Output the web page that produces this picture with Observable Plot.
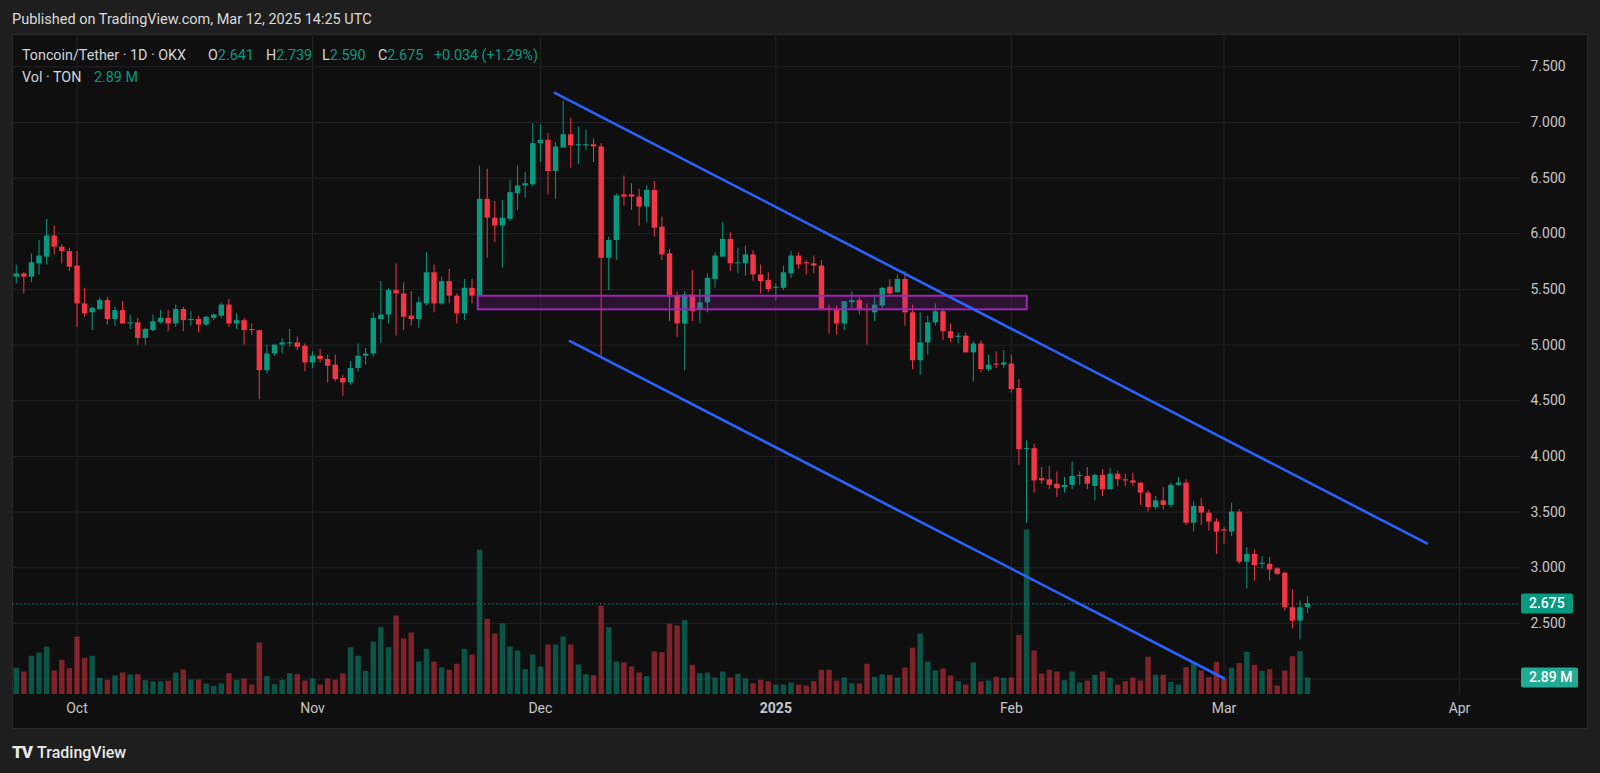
<!DOCTYPE html>
<html>
<head>
<meta charset="utf-8">
<script src="https://cdn.jsdelivr.net/npm/d3@7"></script>
<script src="https://cdn.jsdelivr.net/npm/@observablehq/plot@0.6"></script>
<style>
  html, body { margin:0; padding:0; background:#1e1e1e; }
  #wrap { position:relative; width:1600px; height:773px; background:#1e1e1e; overflow:hidden; font-family: Roboto, "Noto Sans", sans-serif; }
  #pane { position:absolute; left:12px; top:34px; width:1576px; height:695px; background:#0f0f0f; box-sizing:border-box; border:1px solid #2b2b2b; }
  .layer { position:absolute; left:0; top:0; }
  .layer svg { display:block; }
  #hdr { position:absolute; left:12px; top:11px; font-size:14.5px; line-height:18px; color:#dadada; white-space:nowrap; }
  .lg { position:absolute; font-size:14.3px; line-height:18px; color:#d1d4dc; white-space:nowrap; }
  .tv { color:#089981; }
  #footer { position:absolute; left:12px; top:742px; color:#e8e8e8; font-size:16px; line-height:20px; font-weight:500; white-space:nowrap; }
  #footer b { font-weight:900; font-size:17px; letter-spacing:-1px; margin-right:5px; }
</style>
</head>
<body>
<div id="wrap">
  <div id="hdr">Published on TradingView.com, Mar 12, 2025 14:25 UTC</div>
  <div id="pane"></div>
  <div id="gridLayer" class="layer"></div>
  <div id="volLayer" class="layer"></div>
  <div id="priceLayer" class="layer"></div>
  <div class="lg" style="left:22px;top:46px">Toncoin/Tether · 1D · OKX</div>
  <div class="lg" style="left:208px;top:46px">O<span class="tv">2.641</span></div>
  <div class="lg" style="left:266px;top:46px">H<span class="tv">2.739</span></div>
  <div class="lg" style="left:322px;top:46px">L<span class="tv">2.590</span></div>
  <div class="lg" style="left:378px;top:46px">C<span class="tv">2.675</span></div>
  <div class="lg tv" style="left:434px;top:46px">+0.034 (+1.29%)</div>
  <div class="lg" style="left:22px;top:68px">Vol · TON</div>
  <div class="lg tv" style="left:94px;top:68px">2.89 M</div>
  <div id="footer"><b>TV</b>TradingView</div>
</div>
<script>
// ---- data (daily candles, Sep 23 2024 -> Mar 12 2025) ----
const firstDay = "2024-09-23";
const open = [
5.61,5.64,5.61,5.73,5.79,5.98,5.88,5.84,5.71,5.37,
5.29,5.32,5.40,5.23,5.31,5.19,5.20,5.06,5.13,5.20,
5.24,5.19,5.32,5.22,5.23,5.18,5.24,5.26,5.36,5.19,
5.22,5.14,5.13,4.77,4.92,5.00,5.01,5.02,4.99,4.84,
4.90,4.87,4.82,4.70,4.66,4.79,4.90,4.92,5.23,5.27,
5.49,5.46,5.26,5.23,5.37,5.65,5.37,5.57,5.44,5.28,
5.51,5.44,6.31,6.14,6.07,6.13,6.36,6.43,6.44,6.81,
6.84,6.56,6.77,6.89,6.79,6.79,6.80,6.78,5.78,5.94,
6.35,6.35,6.33,6.24,6.39,6.06,5.82,5.44,5.19,5.45,
5.31,5.38,5.59,5.79,5.95,5.73,5.73,5.81,5.63,5.58,
5.51,5.51,5.64,5.80,5.74,5.73,5.71,5.33,5.31,5.19,
5.38,5.40,5.32,5.29,5.35,5.52,5.47,5.59,5.29,4.86,
5.02,5.20,5.30,5.12,5.07,5.08,4.93,5.01,4.78,4.83,
4.82,4.83,4.61,4.06,4.07,3.80,3.79,3.75,3.72,3.74,
3.82,3.82,3.73,3.83,3.70,3.84,3.79,3.78,3.76,3.67,
3.54,3.60,3.56,3.74,3.76,3.40,3.55,3.49,3.41,3.34,
3.32,3.50,3.05,3.12,3.03,3.03,2.99,2.95,2.64,2.52,
2.641];
const high = [
5.72,5.65,5.82,5.94,6.13,6.07,5.90,5.87,5.84,5.51,
5.34,5.42,5.43,5.34,5.39,5.27,5.24,5.15,5.27,5.31,
5.31,5.36,5.34,5.30,5.26,5.26,5.28,5.38,5.41,5.28,
5.24,5.19,5.13,5.00,5.00,5.06,5.14,5.07,5.01,4.94,
4.96,4.91,4.91,4.73,4.85,5.01,4.97,5.29,5.57,5.51,
5.73,5.56,5.48,5.43,5.83,5.72,5.61,5.68,5.46,5.59,
5.59,6.61,6.58,6.29,6.30,6.48,6.61,6.55,6.99,6.98,
6.90,6.82,7.19,7.04,6.96,6.93,6.85,6.81,5.97,6.36,
6.52,6.45,6.40,6.43,6.47,6.15,5.86,5.48,5.48,5.67,
5.50,5.64,5.83,6.10,6.01,5.87,5.89,5.85,5.72,5.65,
5.55,5.71,5.84,5.83,5.76,5.80,5.76,5.36,5.35,5.39,
5.48,5.43,5.37,5.43,5.52,5.59,5.63,5.66,5.36,5.29,
5.26,5.37,5.32,5.19,5.11,5.11,5.03,5.04,4.91,4.94,
4.95,4.91,4.69,4.14,4.11,3.90,3.91,3.86,3.81,3.95,
3.86,3.90,3.84,3.88,3.89,3.87,3.84,3.85,3.76,3.69,
3.64,3.72,3.76,3.81,3.79,3.59,3.62,3.52,3.44,3.36,
3.58,3.52,3.18,3.16,3.10,3.09,3.00,2.96,2.80,2.70,
2.739];
const low = [
5.55,5.46,5.56,5.63,5.72,5.81,5.73,5.66,5.16,5.25,
5.13,5.31,5.18,5.17,5.19,5.14,5.00,5.00,5.12,5.19,
5.12,5.16,5.12,5.17,5.11,5.17,5.22,5.24,5.16,5.14,
5.00,5.09,4.51,4.74,4.90,4.92,4.98,4.95,4.76,4.79,
4.84,4.66,4.67,4.54,4.64,4.76,4.82,4.89,5.01,5.19,
5.08,5.13,5.17,5.15,5.35,5.29,5.36,5.37,5.19,5.22,
5.37,5.44,5.78,5.92,5.69,6.11,6.21,6.32,6.42,6.64,
6.35,6.31,6.77,6.59,6.62,6.75,6.64,4.90,5.49,5.76,
6.25,6.21,6.07,6.10,5.97,5.76,5.21,5.07,4.77,5.21,
5.19,5.29,5.51,5.79,5.66,5.64,5.62,5.57,5.46,5.47,
5.40,5.49,5.60,5.68,5.63,5.64,5.31,5.10,5.09,5.13,
5.32,5.27,5.00,5.21,5.31,5.43,5.47,5.17,4.78,4.73,
4.91,5.17,5.04,5.02,5.01,4.93,4.67,4.75,4.76,4.79,
4.79,4.57,3.92,3.40,3.67,3.75,3.70,3.63,3.67,3.70,
3.74,3.70,3.60,3.64,3.70,3.73,3.73,3.73,3.56,3.50,
3.52,3.52,3.54,3.73,3.38,3.32,3.38,3.33,3.12,3.21,
3.28,3.03,2.81,2.88,2.99,2.88,2.93,2.61,2.45,2.35,
2.590];
const close = [
5.64,5.61,5.74,5.80,5.98,5.88,5.84,5.70,5.37,5.28,
5.33,5.40,5.23,5.31,5.19,5.20,5.06,5.14,5.21,5.24,
5.19,5.32,5.22,5.23,5.18,5.25,5.27,5.36,5.19,5.22,
5.13,5.13,4.77,4.92,5.00,5.02,5.02,4.98,4.84,4.90,
4.87,4.81,4.69,4.66,4.79,4.90,4.92,5.24,5.27,5.49,
5.46,5.25,5.23,5.38,5.65,5.37,5.57,5.44,5.28,5.51,
5.44,6.31,6.14,6.07,6.14,6.37,6.43,6.45,6.81,6.84,
6.56,6.78,6.89,6.79,6.80,6.80,6.78,5.78,5.94,6.34,
6.33,6.33,6.24,6.39,6.05,5.81,5.43,5.19,5.45,5.30,
5.38,5.60,5.80,5.95,5.73,5.74,5.81,5.63,5.57,5.50,
5.52,5.65,5.80,5.72,5.73,5.71,5.31,5.31,5.19,5.39,
5.40,5.31,5.31,5.36,5.51,5.46,5.59,5.29,4.86,5.02,
5.20,5.30,5.12,5.06,5.08,4.93,5.01,4.78,4.82,4.82,
4.84,4.60,4.06,4.07,3.78,3.78,3.74,3.71,3.74,3.82,
3.83,3.75,3.83,3.70,3.84,3.79,3.78,3.76,3.67,3.54,
3.60,3.56,3.74,3.76,3.40,3.55,3.49,3.41,3.32,3.33,
3.50,3.05,3.12,3.02,3.04,2.98,2.94,2.64,2.52,2.64,
2.675];
// volume in millions of TON
const volume = [
4.59,3.94,6.69,7.26,8.31,4.11,5.99,4.52,10.06,6.34,
6.69,2.84,2.49,3.24,3.76,3.41,3.47,2.42,2.19,2.19,
2.31,3.76,4.29,2.54,2.54,1.84,1.40,1.84,3.64,2.49,
2.71,1.66,9.01,3.12,1.72,2.49,3.64,3.47,2.36,2.71,
1.66,2.71,2.49,3.64,8.19,6.69,4.06,9.19,11.69,8.19,
13.74,9.71,10.76,5.69,7.91,5.69,4.64,4.24,5.29,7.91,
6.91,25.29,13.16,10.59,12.34,8.31,7.61,4.34,6.91,4.81,
8.66,8.66,10.06,8.66,5.16,3.47,3.29,15.44,11.69,5.69,
5.51,4.81,3.76,3.12,7.44,7.32,12.29,11.99,12.92,5.11,
3.64,3.76,2.89,3.94,2.89,3.54,2.71,1.89,2.49,2.24,
1.66,1.66,2.01,1.66,1.49,2.24,4.24,4.24,2.36,2.89,
1.89,1.84,5.29,3.01,3.47,3.36,2.89,4.64,8.09,10.59,
5.69,4.11,4.46,3.24,2.24,1.66,5.51,2.19,2.36,3.01,
2.84,2.89,10.36,28.79,7.61,3.59,4.24,3.94,2.42,3.94,
2.01,2.36,3.36,3.94,2.84,1.66,2.24,2.84,2.36,6.51,
3.36,3.36,2.14,1.66,4.73,5.65,4.13,2.94,5.65,2.68,
4.59,5.43,7.40,5.11,4.03,4.31,1.49,4.11,6.62,7.49,
2.89];

const priceTicks = [2.5, 3.0, 3.5, 4.0, 4.5, 5.0, 5.5, 6.0, 6.5, 7.0, 7.5];
const gridLevels = [2.0, 2.5, 3.0, 3.5, 4.0, 4.5, 5.0, 5.5, 6.0, 6.5, 7.0, 7.5];
const monthDates = ["2024-10-01","2024-11-01","2024-12-01","2025-01-01","2025-02-01","2025-03-01","2025-04-01"];
const monthLabels = ["Oct","Nov","Dec","2025","Feb","Mar","Apr"];

// drawings: descending channel and support zone
const channelStart = ["2024-12-02T21:36Z", "2024-12-04T21:36Z"];
const channelStartPrice = [7.267, 5.035];
const channelEnd = ["2025-03-27T16:48Z", "2025-02-28T23:17Z"];
const channelEndPrice = [3.218, 2.007];
const zoneStart = "2024-11-22T19:41Z";
const zoneEnd = "2025-02-03T02:10Z";
const zoneLow = 5.317, zoneHigh = 5.439;

// ---- build tables ----
const day0 = new Date(firstDay + "T00:00Z");
const candles = open.map((o, i) => ({
  date: d3.utcDay.offset(day0, i),
  open: o, high: high[i], low: low[i], close: close[i], volume: volume[i],
  color: close[i] >= o ? "#089981" : "#f23645"
}));
const months = monthDates.map((d, i) => ({date: new Date(d + "T00:00Z"), label: monthLabels[i], bold: monthLabels[i] === "2025"}));
const channel = channelStart.map((s, i) => ({x1: new Date(s), y1: channelStartPrice[i], x2: new Date(channelEnd[i]), y2: channelEndPrice[i]}));
const zones = [{x1: new Date(zoneStart), x2: new Date(zoneEnd), y1: zoneLow, y2: zoneHigh}];

const UP = "#089981", DOWN = "#f23645";
const xDomain = [new Date("2024-09-22T12:13Z"), new Date("2025-04-09T00:43Z")];
const yDomain = [1.8608, 7.7907];
const common = {
  width: 1600, height: 773,
  marginLeft: 12, marginRight: 80, marginTop: 34, marginBottom: 79,
  style: {background: "transparent", color: "#c5c7cc", fontFamily: "Roboto, sans-serif", fontSize: "14px", overflow: "visible"}
};

// layer 1: grid + axes
const gridPlot = Plot.plot({
  ...common,
  x: {type: "utc", domain: xDomain, axis: null},
  y: {domain: yDomain},
  marks: [
    Plot.gridY(gridLevels, {stroke: "#222326", strokeOpacity: 1}),
    Plot.gridX(months.map(d => d.date), {stroke: "#222326", strokeOpacity: 1}),
    Plot.axisY(priceTicks, {anchor: "right", tickSize: 0, tickPadding: 10, tickFormat: d3.format(".3f"), label: null, fontSize: 14}),
    Plot.text(months.filter(d => !d.bold), {x: "date", text: "label", frameAnchor: "bottom", dy: 18, fontSize: 14}),
    Plot.text(months.filter(d => d.bold), {x: "date", text: "label", frameAnchor: "bottom", dy: 18, fontSize: 14, fontWeight: "bold"})
  ]
});
document.getElementById("gridLayer").append(gridPlot);

// layer 2: volume
const volPlot = Plot.plot({
  ...common,
  x: {type: "utc", domain: xDomain, axis: null},
  y: {domain: [0, 115.5], axis: null},
  marks: [
    Plot.ruleX(candles, {x: "date", y1: 0, y2: "volume", stroke: "color", strokeOpacity: 0.5, strokeWidth: 5.4})
  ]
});
document.getElementById("volLayer").append(volPlot);

// layer 3: candles + drawings
const pricePlot = Plot.plot({
  ...common,
  x: {type: "utc", domain: xDomain, axis: null},
  y: {domain: yDomain, axis: null},
  marks: [
    Plot.ruleY([close[close.length - 1]], {stroke: UP, strokeWidth: 1, strokeDasharray: "1.5,2.5"}),
    Plot.ruleX(candles, {x: "date", y1: "low", y2: "high", stroke: "color", strokeWidth: 1}),
    Plot.ruleX(candles, {x: "date", y1: "open", y2: "close", stroke: "color", strokeWidth: 5.4}),
    Plot.rect(zones, {x1: "x1", x2: "x2", y1: "y1", y2: "y2", fill: "#9c27b0", fillOpacity: 0.2, stroke: "#9c27b0", strokeWidth: 2}),
    Plot.link(channel, {x1: "x1", y1: "y1", x2: "x2", y2: "y2", stroke: "#2962ff", strokeWidth: 2.6, strokeLinecap: "round"})
  ]
});
document.getElementById("priceLayer").append(pricePlot);

// price / volume tags on the right scale
const svg = d3.select(pricePlot);
const lastClose = close[close.length - 1];
const lastVol = volume[volume.length - 1];
const yPrice = pricePlot.scale("y").apply(lastClose);
const yVol = volPlot.scale("y").apply(lastVol);
const tags = [
  {y: yPrice, w: 52, fill: UP, text: d3.format(".3f")(lastClose)},
  {y: yVol, w: 57, fill: "#22ab94", text: d3.format(".2f")(lastVol) + " M"}
];
const g = svg.append("g").attr("text-anchor", "start");
tags.forEach(t => {
  g.append("rect").attr("x", 1521).attr("y", t.y - 10).attr("width", t.w).attr("height", 20).attr("rx", 2).attr("fill", t.fill);
  g.append("text").attr("x", 1529).attr("y", t.y).attr("dy", "0.35em").attr("fill", "#ffffff")
    .attr("text-anchor", "start").attr("font-weight", 500)
    .attr("font-size", 14).attr("font-family", "Roboto, sans-serif").text(t.text);
});
</script>
</body>
</html>
